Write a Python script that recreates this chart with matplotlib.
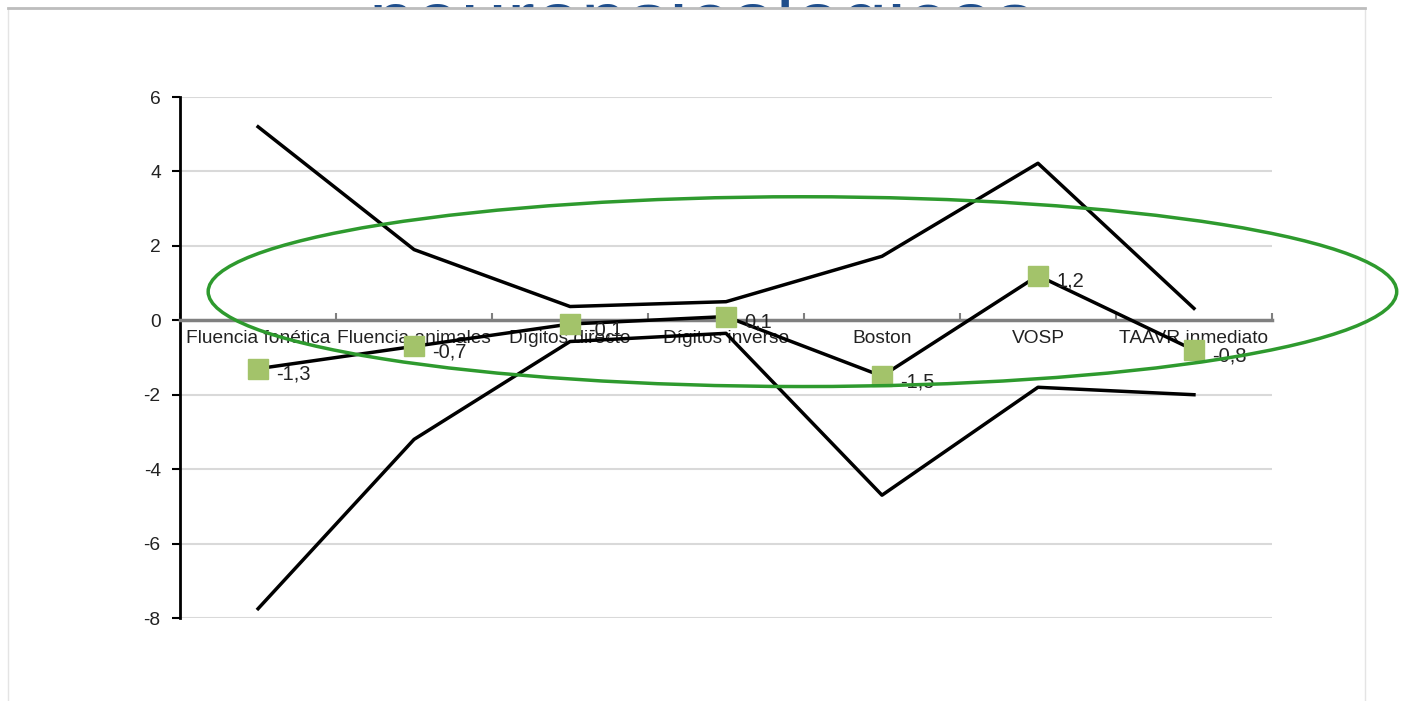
import matplotlib.pyplot as plt
from matplotlib.patches import Ellipse, Rectangle

plt.rcParams['font.family'] = ['Liberation Sans', 'DejaVu Sans']

# Data
categories = ['Fluencia fonética', 'Fluencia animales', 'Dígitos directo',
              'Dígitos inverso', 'Boston', 'VOSP', 'TAAVR inmediato']
upper = [5.2, 1.9, 0.37, 0.5, 1.72, 4.22, 0.32]
lower = [-7.75, -3.2, -0.57, -0.35, -4.7, -1.8, -2.0]
scores = [-1.3, -0.7, -0.1, 0.1, -1.5, 1.2, -0.8]
score_labels = ['-1,3', '-0,7', '-0,1', '0,1', '-1,5', '1,2', '-0,8']

fig = plt.figure(figsize=(14.07, 7.01), dpi=100)
ax = fig.add_axes([0.128, 0.1184, 0.776, 0.7432])
ax.set_zorder(3)

x = list(range(len(categories)))

# Title of the slide, mostly hidden behind the white chart panel
fig.text(0.4995, 0.9295, 'neuropsicológicos', ha='center', va='baseline',
         fontsize=60, color='#1f4e8c', zorder=1)
# White chart panel with a light frame
fig.add_artist(Rectangle((0.0057, -0.01), 0.9645, 0.9986, transform=fig.transFigure,
                         facecolor='white', edgecolor='#e4e4e4', lw=1.0, zorder=2))
fig.add_artist(plt.Line2D([0.0057, 0.9702], [0.9886, 0.9886], transform=fig.transFigure,
                          color='#bdbdbd', lw=2, zorder=2))

# Grid lines
for yv in [-8, -6, -4, -2, 2, 4, 6]:
    ax.axhline(yv, color='#d9d9d9', lw=1.5, zorder=0)

ax.plot(x, upper, color='black', lw=2.5, zorder=3)
ax.plot(x, lower, color='black', lw=2.5, zorder=3)
ax.plot(x, scores, color='black', lw=2.5, marker='s', markersize=15,
        markerfacecolor='#a3c36a', markeredgecolor='#a3c36a', zorder=4)

for xi, yi, lab in zip(x, scores, score_labels):
    ax.annotate(lab, (xi, yi), xytext=(13, -4), textcoords='offset points',
                fontsize=14.5, color='#222222', va='center', ha='left', zorder=5)

ax.add_patch(Ellipse((3.49, 0.77), 7.62, 5.1, fill=False, edgecolor='#2e9a2e',
                     lw=2.5, clip_on=False, zorder=6))

ax.set_xlim(-0.5, 6.5)
ax.set_ylim(-8, 6)
ax.set_yticks([-8, -6, -4, -2, 0, 2, 4, 6])
ax.set_yticklabels(['-8', '-6', '-4', '-2', '0', '2', '4', '6'])

ax.spines['top'].set_visible(False)
ax.spines['right'].set_visible(False)
ax.spines['left'].set_linewidth(2)
ax.spines['bottom'].set_position(('data', 0))
ax.spines['bottom'].set_color('#808080')
ax.spines['bottom'].set_linewidth(2.5)

ax.set_xticks(x)
ax.set_xticklabels(categories)
ax.set_xticks([i + 0.5 for i in range(-1, len(categories))], minor=True)
ax.tick_params(axis='x', which='major', length=0, labelsize=13.8, pad=7, colors='#222222')
ax.tick_params(axis='x', which='minor', length=5, width=1.5, color='#808080', direction='in')
ax.tick_params(axis='y', length=6, width=1.5, labelsize=13.8, pad=8, colors='#222222')
ax.tick_params(axis='y', color='black')

fig.savefig('out.png', dpi=100)
